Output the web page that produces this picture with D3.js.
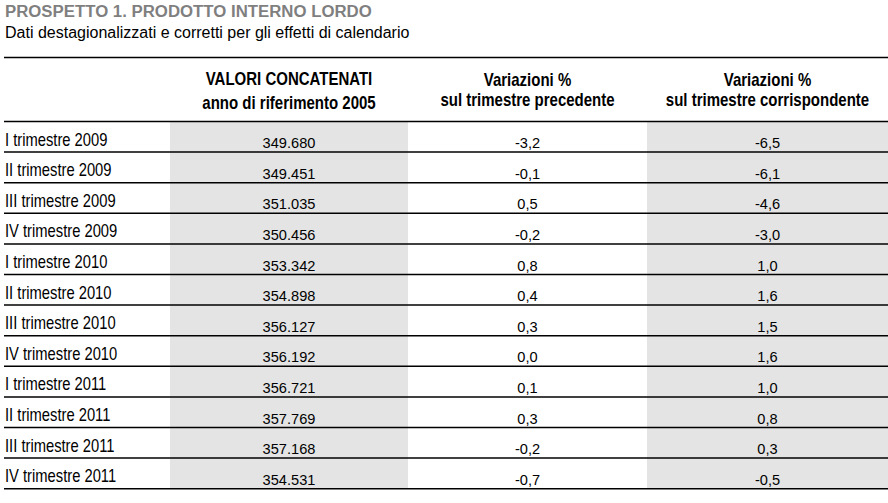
<!DOCTYPE html>
<html>
<head>
<meta charset="utf-8">
<script src="https://cdn.jsdelivr.net/npm/d3@7"></script>
<style>
  html, body { margin: 0; padding: 0; background: #fff; }
  svg { display: block; }
</style>
</head>
<body>
<svg id="chart" width="888" height="503"></svg>
<script>
// ---------------- DATA ----------------
const title = "PROSPETTO 1. PRODOTTO INTERNO LORDO";
const subtitle = "Dati destagionalizzati e corretti per gli effetti di calendario";
const headerValori = ["VALORI CONCATENATI", "anno di riferimento 2005"];
const headerCong = ["Variazioni %", "sul trimestre precedente"];
const headerTend = ["Variazioni %", "sul trimestre corrispondente"];
const quarters = [
  "I trimestre 2009", "II trimestre 2009", "III trimestre 2009", "IV trimestre 2009",
  "I trimestre 2010", "II trimestre 2010", "III trimestre 2010", "IV trimestre 2010",
  "I trimestre 2011", "II trimestre 2011", "III trimestre 2011", "IV trimestre 2011"
];
const valori = [349680, 349451, 351035, 350456, 353342, 354898, 356127, 356192, 356721, 357769, 357168, 354531];
const varCong = [-3.2, -0.1, 0.5, -0.2, 0.8, 0.4, 0.3, 0.0, 0.1, 0.3, -0.2, -0.7];
const varTend = [-6.5, -6.1, -4.6, -3.0, 1.0, 1.6, 1.5, 1.6, 1.0, 0.8, 0.3, -0.5];

// ---------------- LAYOUT ----------------
const W = 888, H = 503;
const svg = d3.select("#chart");
const it = d3.formatLocale({ decimal: ",", thousands: ".", grouping: [3], currency: ["€", ""], minus: "-" });
const fmtVal = it.format(",d");
const fmtPct = it.format(",.1f");

// Detect narrow font; if missing, compress regular font horizontally
const NARROW = "'Liberation Sans Narrow', 'Arial Narrow'";
const REG = "'Liberation Sans', Arial, sans-serif";
const cv = document.createElement("canvas").getContext("2d");
cv.font = "20px 'Liberation Sans Narrow', monospace";
const wN = cv.measureText("VALORI CONCATENATI abc").width;
cv.font = "20px monospace";
const wM = cv.measureText("VALORI CONCATENATI abc").width;
const hasNarrow = Math.abs(wN - wM) > 0.5;
const narrowFamily = hasNarrow ? NARROW + ", " + REG : REG;
const kx = hasNarrow ? 1 : 0.82;

function ntext(g, x, y, str, opts) {
  const k = opts.regular ? 1 : kx;
  return g.append("text")
    .attr("transform", `translate(${x},${y}) scale(${k},1)`)
    .attr("text-anchor", opts.anchor || "start")
    .style("font-family", opts.regular ? REG : narrowFamily)
    .style("font-size", opts.size + "px")
    .style("font-weight", opts.weight || "normal")
    .style("fill", opts.fill || "#000")
    .text(str);
}

// Columns: label column, then three data columns
const colEdges = [170, 408, 647, 888];
const colX = d3.scaleOrdinal().domain(["valori", "cong", "tend"]).range([0, 1, 2]);
const colLeft = k => colEdges[colX(k)];
const colRight = k => colEdges[colX(k) + 1];
const colMid = k => (colLeft(k) + colRight(k)) / 2;

const y = d3.scaleBand().domain(quarters).range([121.5, 488.7]).padding(0);

// Title
ntext(svg, 5, 16.7, title, { size: 16.8, weight: "bold", fill: "#7f7f7f", regular: true });
ntext(svg, 5, 37.7, subtitle, { size: 16, regular: true });

// Grey cell backgrounds (columns 1 and 3)
const rows = quarters.map((q, i) => ({ q, v: valori[i], c: varCong[i], t: varTend[i] }));
const cells = svg.append("g");
["valori", "tend"].forEach(k => {
  cells.selectAll(null).data(rows).enter().append("rect")
    .attr("x", colLeft(k))
    .attr("y", d => y(d.q))
    .attr("width", colRight(k) - colLeft(k))
    .attr("height", y.bandwidth())
    .attr("fill", "#e4e4e4");
});

// Header
const hdr = svg.append("g");
ntext(hdr, colMid("valori"), 85, headerValori[0], { size: 18.3, weight: "bold", anchor: "middle" });
ntext(hdr, colMid("valori"), 109, headerValori[1], { size: 18.3, weight: "bold", anchor: "middle" });
ntext(hdr, colMid("cong"), 86, headerCong[0], { size: 18.3, weight: "bold", anchor: "middle" });
ntext(hdr, colMid("cong"), 105.5, headerCong[1], { size: 18.3, weight: "bold", anchor: "middle" });
ntext(hdr, colMid("tend"), 86, headerTend[0], { size: 18.3, weight: "bold", anchor: "middle" });
ntext(hdr, colMid("tend"), 105.5, headerTend[1], { size: 18.3, weight: "bold", anchor: "middle" });

// Row labels
const lab = svg.append("g");
rows.forEach(d => {
  ntext(lab, 5, y(d.q) + y.bandwidth() - 6.5, d.q, { size: 18 });
});

// Values
const vals = svg.append("g")
  .style("font-family", REG)
  .style("font-size", "14.6px")
  .attr("text-anchor", "middle")
  .attr("fill", "#000");
[["valori", d => fmtVal(d.v)], ["cong", d => fmtPct(d.c)], ["tend", d => fmtPct(d.t)]].forEach(([k, f]) => {
  vals.selectAll(null).data(rows).enter().append("text")
    .attr("x", colMid(k))
    .attr("y", d => y(d.q) + y.bandwidth() - 4)
    .text(f);
});

// Rules
const rules = svg.append("g").attr("stroke", "#000").attr("stroke-width", 1.5);
rules.append("line").attr("x1", 4).attr("x2", W).attr("y1", 57.5).attr("y2", 57.5);
const ruleYs = [y.range()[0]].concat(quarters.map(q => y(q) + y.bandwidth()));
rules.selectAll(null).data(ruleYs).enter().append("line")
  .attr("x1", 4).attr("x2", W)
  .attr("y1", d => d).attr("y2", d => d);
</script>
</body>
</html>
